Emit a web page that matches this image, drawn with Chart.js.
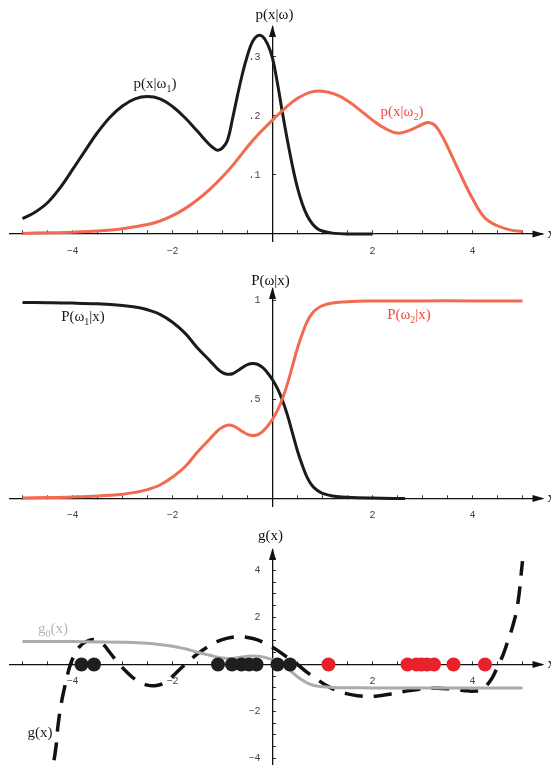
<!DOCTYPE html>
<html>
<head>
<meta charset="utf-8">
<script src="https://cdn.jsdelivr.net/npm/chart.js@4.4.1/dist/chart.umd.min.js"></script>
<style>
  html, body { margin: 0; padding: 0; background: #fff; }
  body { width: 551px; height: 765px; position: relative; overflow: hidden; }
  canvas { position: absolute; left: 0; }
</style>
</head>
<body>
<canvas id="c1" width="551" height="255" style="top:0"></canvas>
<canvas id="c2" width="551" height="270" style="top:255px"></canvas>
<canvas id="c3" width="551" height="265" style="top:525px"></canvas>
<script>
// class-conditional densities p(x|w1), p(x|w2)
const densX1 = [-5, -4.75, -4.5, -4.25, -4, -3.75, -3.5, -3.25, -3, -2.75, -2.5, -2.25, -2, -1.75, -1.5, -1.3, -1.2, -1.1, -1, -0.9, -0.8, -0.7, -0.6, -0.5, -0.4, -0.3, -0.2, -0.1, 0, 0.1, 0.2, 0.3, 0.4, 0.5, 0.6, 0.7, 0.8, 0.9, 1, 1.2, 1.5, 2];
const densY1 = [0.026, 0.037, 0.053, 0.078, 0.109, 0.141, 0.172, 0.198, 0.217, 0.229, 0.233, 0.229, 0.216, 0.197, 0.174, 0.155, 0.147, 0.142, 0.146, 0.159, 0.195, 0.235, 0.272, 0.303, 0.326, 0.336, 0.335, 0.322, 0.298, 0.255, 0.205, 0.158, 0.115, 0.078, 0.05, 0.03, 0.017, 0.009, 0.005, 0.0015, 0, 0];
const densX2 = [-5, -4.5, -4, -3.5, -3, -2.5, -2.25, -2, -1.75, -1.5, -1.25, -1, -0.75, -0.5, -0.25, 0, 0.25, 0.5, 0.75, 1, 1.25, 1.5, 1.75, 2, 2.25, 2.5, 2.75, 3, 3.12, 3.25, 3.4, 3.5, 3.75, 4, 4.25, 4.5, 4.75, 5];
const densY2 = [0.001, 0.002, 0.003, 0.005, 0.009, 0.016, 0.022, 0.031, 0.043, 0.058, 0.076, 0.097, 0.121, 0.148, 0.172, 0.193, 0.213, 0.23, 0.24, 0.242, 0.237, 0.226, 0.21, 0.193, 0.179, 0.171, 0.176, 0.186, 0.189, 0.184, 0.165, 0.148, 0.103, 0.06, 0.027, 0.014, 0.007, 0.004];

// posteriors P(w1|x), P(w2|x)
const postX1 = [-5, -4.5, -4, -3.5, -3, -2.75, -2.5, -2.25, -2, -1.75, -1.5, -1.25, -1.1, -1, -0.9, -0.8, -0.7, -0.6, -0.5, -0.4, -0.3, -0.2, -0.1, 0, 0.1, 0.2, 0.3, 0.4, 0.5, 0.6, 0.7, 0.8, 0.9, 1, 1.2, 1.5, 2, 2.65];
const postY1 = [0.99, 0.989, 0.987, 0.983, 0.975, 0.967, 0.953, 0.93, 0.89, 0.835, 0.76, 0.695, 0.655, 0.636, 0.628, 0.63, 0.645, 0.662, 0.676, 0.682, 0.678, 0.662, 0.635, 0.60, 0.555, 0.495, 0.42, 0.33, 0.24, 0.165, 0.103, 0.063, 0.04, 0.026, 0.013, 0.006, 0.002, 0];
const postX2 = [-5, -4.5, -4, -3.5, -3, -2.75, -2.5, -2.25, -2, -1.75, -1.5, -1.25, -1.1, -1, -0.9, -0.8, -0.7, -0.6, -0.5, -0.4, -0.3, -0.2, -0.1, 0, 0.1, 0.2, 0.3, 0.4, 0.5, 0.6, 0.7, 0.8, 0.9, 1, 1.2, 1.5, 2, 3, 4, 5];
const postY2 = [0.003, 0.005, 0.008, 0.013, 0.022, 0.031, 0.045, 0.068, 0.108, 0.16, 0.235, 0.302, 0.342, 0.36, 0.37, 0.368, 0.355, 0.338, 0.324, 0.318, 0.322, 0.338, 0.365, 0.40, 0.445, 0.505, 0.58, 0.67, 0.76, 0.835, 0.897, 0.937, 0.96, 0.974, 0.987, 0.994, 0.997, 0.998, 0.998, 0.998];

// discriminants g0(x) (Bayes) and g(x) (fitted)
const g0X = [-5, -4, -3, -2.5, -2, -1.75, -1.5, -1.25, -1.1, -1, -0.9, -0.8, -0.7, -0.6, -0.5, -0.4, -0.3, -0.2, -0.1, 0, 0.1, 0.2, 0.3, 0.4, 0.5, 0.6, 0.7, 0.8, 0.9, 1, 1.2, 1.5, 2, 3, 4, 5];
const g0Y = [0.98, 0.974, 0.95, 0.906, 0.78, 0.67, 0.52, 0.39, 0.31, 0.272, 0.256, 0.26, 0.29, 0.324, 0.352, 0.364, 0.356, 0.324, 0.27, 0.2, 0.11, -0.01, -0.16, -0.34, -0.52, -0.67, -0.794, -0.874, -0.92, -0.948, -0.974, -0.988, -0.996, -0.996, -0.996, -0.996];
const gX = [-4.45, -4.4, -4.33, -4.29, -4.22, -4.15, -4.05, -3.95, -3.85, -3.7, -3.55, -3.4, -3.25, -3.1, -2.9, -2.7, -2.5, -2.35, -2.2, -2.05, -1.9, -1.7, -1.5, -1.3, -1.1, -0.9, -0.7, -0.5, -0.3, -0.1, 0.1, 0.3, 0.5, 0.7, 0.9, 1.1, 1.3, 1.5, 1.7, 1.9, 2.1, 2.3, 2.5, 2.7, 2.9, 3.1, 3.3, 3.5, 3.7, 3.9, 4.05, 4.2, 4.3, 4.4, 4.5, 4.6, 4.7, 4.8, 4.9, 5.0];
const gY = [-5.3, -4.5, -3.5, -2.6, -1.6, -0.9, -0.05, 0.45, 0.78, 1.0, 1.05, 0.88, 0.5, 0.1, -0.35, -0.7, -0.88, -0.9, -0.82, -0.6, -0.3, 0.1, 0.45, 0.75, 0.98, 1.12, 1.18, 1.15, 1.05, 0.85, 0.6, 0.3, 0.0, -0.35, -0.65, -0.92, -1.12, -1.25, -1.33, -1.36, -1.34, -1.28, -1.2, -1.12, -1.06, -1.02, -1.01, -1.03, -1.07, -1.12, -1.13, -1.05, -0.85, -0.55, -0.1, 0.35, 0.95, 1.6, 2.5, 4.4];

// training samples
const samplesW1 = [-3.82, -3.57, -1.09, -0.81, -0.62, -0.47, -0.32, 0.1, 0.35];
const samplesW2 = [1.12, 2.7, 2.88, 2.98, 3.09, 3.23, 3.62, 4.25];

// tick positions / labels
const xTicks = [-5, -4.5, -4, -3.5, -3, -2.5, -2, -1.5, -1, -0.5, 0.5, 1, 1.5, 2, 2.5, 3, 3.5, 4, 4.5, 5];
const xTickLabels = { '-4': '\u22124', '-2': '\u22122', '2': '2', '4': '4' };
const y1Ticks = [0.1, 0.2, 0.3];
const y1TickLabels = { '0.1': '.1', '0.2': '.2', '0.3': '.3' };
const y2Ticks = [0.5, 1];
const y2TickLabels = { '0.5': '.5', '1': '1' };
const y3Ticks = [-4, -3.5, -3, -2.5, -2, -1.5, -1, -0.5, 0.5, 1, 1.5, 2, 2.5, 3, 3.5, 4, 4.5];
const y3TickLabels = { '-4': '\u22124', '-2': '\u22122', '2': '2', '4': '4' };

const BLACK = '#1b1b1b';
const SALMON = '#f26b50';
const RED_TEXT = '#ee4a43';
const DOT_RED = '#e8222a';
const GRAY = '#ababab';
const TICK_FONT = { family: '"Liberation Mono", monospace', size: 10 };
const SERIF = '"Liberation Serif", "Times New Roman", serif';

const pts = (xs, ys) => xs.map((x, i) => ({ x: x, y: ys[i] }));

function drawRich(ctx, parts, cx, baseline, color, size, align) {
  ctx.save();
  ctx.fillStyle = color;
  ctx.textBaseline = 'alphabetic';
  ctx.textAlign = 'left';
  const fontFor = sub => (sub ? Math.round(size * 0.68) : size) + 'px ' + SERIF;
  let w = 0;
  parts.forEach(p => { ctx.font = fontFor(p[1]); w += ctx.measureText(p[0]).width; });
  let x = align === 'left' ? cx : cx - w / 2;
  parts.forEach(p => {
    ctx.font = fontFor(p[1]);
    ctx.fillText(p[0], x, baseline + (p[1] ? size * 0.25 : 0));
    x += ctx.measureText(p[0]).width;
  });
  ctx.restore();
}

// arrows at the ends of the axes, axis names and curve labels
const axisDecor = {
  id: 'axisDecor',
  afterDraw(chart, args, opts) {
    const ctx = chart.ctx;
    const xs = chart.scales.x, ys = chart.scales.y;
    const x0 = xs.getPixelForValue(0), y0 = ys.getPixelForValue(0);
    const area = chart.chartArea;
    ctx.save();
    ctx.fillStyle = '#111';
    ctx.beginPath();
    ctx.moveTo(area.right + 2, y0);
    ctx.lineTo(area.right - 10, y0 - 3.5);
    ctx.lineTo(area.right - 10, y0 + 3.5);
    ctx.closePath();
    ctx.fill();
    ctx.beginPath();
    ctx.moveTo(x0, area.top - 2);
    ctx.lineTo(x0 - 3.5, area.top + 10);
    ctx.lineTo(x0 + 3.5, area.top + 10);
    ctx.closePath();
    ctx.fill();
    ctx.restore();
    drawRich(ctx, [['x', 0]], area.right + 5, y0 + 4, '#111', 15, 'left');
    drawRich(ctx, opts.title, x0 + opts.titleDx, area.top - opts.titleGap, '#111', 15);
    (opts.labels || []).forEach(l => drawRich(ctx, l.parts, l.x, l.y, l.color, 15, l.align));
  }
};

function axes(yMin, yMax, yTicks, yLabels) {
  return {
    x: {
      type: 'linear', min: -5.25, max: 5.4,
      position: { y: 0 },
      afterBuildTicks: s => { s.ticks = xTicks.map(v => ({ value: v })); },
      grid: { drawOnChartArea: false, drawTicks: true, tickLength: -4, color: '#333', lineWidth: 1 },
      border: { display: true, color: '#111', width: 1.3 },
      ticks: {
        font: TICK_FONT, color: '#444', padding: 15, maxRotation: 0, autoSkip: false,
        callback: v => xTickLabels[String(v)] || ''
      }
    },
    y: {
      type: 'linear', min: yMin, max: yMax,
      position: { x: 0 },
      afterBuildTicks: s => { s.ticks = yTicks.map(v => ({ value: v })); },
      grid: { drawOnChartArea: false, drawTicks: true, tickLength: -4, color: '#333', lineWidth: 1 },
      border: { display: true, color: '#111', width: 1.3 },
      ticks: {
        font: TICK_FONT, color: '#444', autoSkip: false,
        callback: v => (yLabels[String(v)] || '') + (yLabels[String(v)] ? '  ' : '')
      }
    }
  };
}

function line(data, color, width, dash) {
  return {
    data: data, borderColor: color, borderWidth: width, borderDash: dash || [],
    pointRadius: 0, fill: false, tension: 0.4, order: 2
  };
}

function baseOptions(pad, scales, decor) {
  return {
    responsive: false, animation: false, devicePixelRatio: 1,
    layout: { autoPadding: false, padding: pad },
    scales: scales,
    plugins: { legend: { display: false }, tooltip: { enabled: false }, axisDecor: decor }
  };
}

// panel 1: p(x|w)
new Chart(document.getElementById('c1'), {
  type: 'line',
  data: { datasets: [line(pts(densX2, densY2), SALMON, 3), line(pts(densX1, densY1), BLACK, 3)] },
  options: baseOptions({ left: 10, right: 8.5, top: 27, bottom: 13.5 },
    axes(-0.0127, 0.3508, y1Ticks, y1TickLabels),
    {
      title: [['p(x|\u03c9)', 0]], titleDx: 2, titleGap: 8,
      labels: [
        { parts: [['p(x|\u03c9', 0], ['1', 1], [')', 0]], x: 155, y: 88, color: BLACK },
        { parts: [['p(x|\u03c9', 0], ['2', 1], [')', 0]], x: 402, y: 116, color: RED_TEXT }
      ]
    }),
  plugins: [axisDecor]
});

// panel 2: P(w|x)
new Chart(document.getElementById('c2'), {
  type: 'line',
  data: { datasets: [line(pts(postX2, postY2), SALMON, 3), line(pts(postX1, postY1), BLACK, 3)] },
  options: baseOptions({ left: 10, right: 8.5, top: 34, bottom: 19 },
    axes(-0.0379, 1.058, y2Ticks, y2TickLabels),
    {
      title: [['P(\u03c9|x)', 0]], titleDx: -2, titleGap: 4,
      labels: [
        { parts: [['P(\u03c9', 0], ['1', 1], ['|x)', 0]], x: 83, y: 66, color: BLACK },
        { parts: [['P(\u03c9', 0], ['2', 1], ['|x)', 0]], x: 409, y: 64, color: RED_TEXT }
      ]
    }),
  plugins: [axisDecor]
});

// panel 3: g0(x), g(x) and the samples
new Chart(document.getElementById('c3'), {
  type: 'line',
  data: {
    datasets: [
      line(pts(g0X, g0Y), GRAY, 3),
      line(pts(gX, gY), '#111', 3.5, [18, 11]),
      { type: 'scatter', data: samplesW1.map(x => ({ x: x, y: 0 })), pointRadius: 7, pointBackgroundColor: '#1e1e1e', pointBorderWidth: 0, showLine: false, order: 1 },
      { type: 'scatter', data: samplesW2.map(x => ({ x: x, y: 0 })), pointRadius: 7, pointBackgroundColor: DOT_RED, pointBorderWidth: 0, showLine: false, order: 1 }
    ]
  },
  options: baseOptions({ left: 10, right: 8.5, top: 25, bottom: 25 },
    axes(-4.277, 4.872, y3Ticks, y3TickLabels),
    {
      title: [['g(x)', 0]], titleDx: -2, titleGap: 10,
      labels: [
        { parts: [['g', 0], ['0', 1], ['(x)', 0]], x: 53, y: 108, color: '#b5b5b5' },
        { parts: [['g(x)', 0]], x: 40, y: 212, color: BLACK }
      ]
    }),
  plugins: [axisDecor]
});
</script>
</body>
</html>
